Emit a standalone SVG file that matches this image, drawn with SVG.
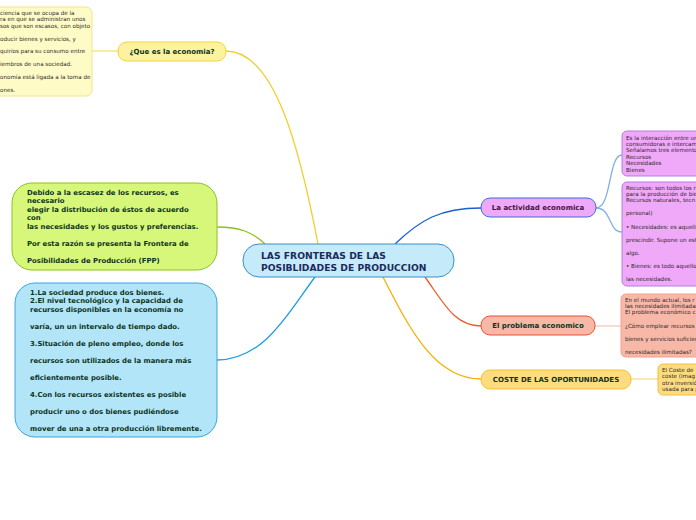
<svg xmlns="http://www.w3.org/2000/svg" width="696" height="520" viewBox="0 0 696 520">
<style>
.t{font-family:"DejaVu Sans",Verdana,sans-serif;font-weight:bold;fill:#0d3322}
.s{font-family:"DejaVu Sans",Verdana,sans-serif;font-size:5.6px;fill:#2a2a2a}
.c{fill:none;stroke-width:1.3}
</style>
<rect width="696" height="520" fill="#fff"/>
<g id="connectors">
<path class="c" d="M92,51 L118,51" stroke="#f5e070"/>
<path class="c" d="M226,51 C275,51 300,150 318,244" stroke="#f0d030"/>
<path class="c" d="M217,227 C240,227 252,232 265,244" stroke="#8dc21f"/>
<path class="c" d="M217,360 C265,360 290,310 315,277" stroke="#1a9fe0"/>
<path class="c" d="M395,244 C420,220 440,208 481,208" stroke="#1a5fd0"/>
<path class="c" d="M425,277 C445,305 455,326 481,326" stroke="#f05a28"/>
<path class="c" d="M383,277 C410,330 435,379 481,379" stroke="#f5b000"/>
<path class="c" d="M596,208 C612,208 608,155 622,155" stroke="#80b0e8"/>
<path class="c" d="M596,208 C612,208 608,232 622,232" stroke="#80b0e8"/>
<path class="c" d="M595,326 L621,326" stroke="#f8c8b8"/>
<path class="c" d="M631,379 L658,379" stroke="#fcd890"/>
</g>
<g id="note-economia">
<rect x="-10" y="7" width="102" height="89" rx="6" fill="#fffbc6" stroke="#f5e38a"/>
<text class="s" x="0" y="15">ciencia que se ocupa de la</text>
<text class="s" x="0" y="21">ra en que se administran unos</text>
<text class="s" x="0" y="28">sos que son escasos, con objeto</text>
<text class="s" x="0" y="41">oducir bienes y servicios, y</text>
<text class="s" x="0" y="53">quirios para su consumo entre</text>
<text class="s" x="0" y="66">iembros de una sociedad.</text>
<text class="s" x="0" y="79">onomía está ligada a la toma de</text>
<text class="s" x="0" y="92">ones.</text>
</g>
<g id="que-es">
<rect x="118" y="42" width="108" height="19" rx="9" fill="#fdf2a0" stroke="#f5d23c"/>
<text class="t" x="172" y="54" font-size="7" text-anchor="middle">¿Que es la economia?</text>
</g>
<g id="central">
<rect x="243" y="244" width="211" height="33" rx="16" fill="#c5ebfb" stroke="#3a8fc8"/>
<text class="t" x="261" y="259" font-size="9.2" style="fill:#1b2a5c">LAS FRONTERAS DE LAS</text>
<text class="t" x="261" y="271" font-size="9.2" style="fill:#1b2a5c">POSIBLIDADES DE PRODUCCION</text>
</g>
<g id="escasez">
<rect x="12" y="183" width="205" height="87" rx="20" fill="#d6f77a" stroke="#8dc21f"/>
<g class="t" font-size="6.9">
<text x="27" y="195">Debido a la escasez de los recursos, es</text>
<text x="27" y="203">necesario</text>
<text x="27" y="212">elegir la distribución de éstos de acuerdo</text>
<text x="27" y="220">con</text>
<text x="27" y="229">las necesidades y los gustos y preferencias.</text>
<text x="27" y="246">Por esta razón se presenta la Frontera de</text>
<text x="27" y="263">Posibilidades de Producción (FPP)</text>
</g>
</g>
<g id="supuestos">
<rect x="15" y="283" width="202" height="154" rx="20" fill="#b3e5f9" stroke="#3aa4e0"/>
<g class="t" font-size="6.9">
<text x="30" y="295">1.La sociedad produce dos bienes.</text>
<text x="30" y="303">2.El nivel tecnológico y la capacidad de</text>
<text x="30" y="312">recursos disponibles en la economía no</text>
<text x="30" y="329">varía, un un intervalo de tiempo dado.</text>
<text x="30" y="346">3.Situación de pleno empleo, donde los</text>
<text x="30" y="363">recursos son utilizados de la manera más</text>
<text x="30" y="380">eficientemente posible.</text>
<text x="30" y="397">4.Con los recursos existentes es posible</text>
<text x="30" y="414">producir uno o dos bienes pudiéndose</text>
<text x="30" y="431">mover de una a otra producción libremente.</text>
</g>
</g>
<g id="actividad">
<rect x="481" y="198" width="115" height="19" rx="9" fill="#f0a8f8" stroke="#3a6fd8"/>
<text class="t" x="538" y="210" font-size="7" text-anchor="middle" style="fill:#3a1a40">La actividad economica</text>
</g>
<g id="actividad-def">
<rect x="622" y="131" width="90" height="45" rx="5" fill="#f0a8f8" stroke="#b080e0"/>
<text class="s" x="626" y="140">Es la interacción entre un</text>
<text class="s" x="626" y="146">consumidoras e intercam</text>
<text class="s" x="626" y="152">Señalamos tres elemento</text>
<text class="s" x="626" y="159">Recursos</text>
<text class="s" x="626" y="165">Necesidades</text>
<text class="s" x="626" y="172">Bienes</text>
</g>
<g id="actividad-elementos">
<rect x="622" y="182" width="90" height="104" rx="5" fill="#f0a8f8" stroke="#b080e0"/>
<text class="s" x="626" y="190">Recursos: son todos los r</text>
<text class="s" x="626" y="196">para la producción de bie</text>
<text class="s" x="626" y="202">Recursos naturales, tecn</text>
<text class="s" x="626" y="215">personal)</text>
<text class="s" x="626" y="229">• Necesidades: es aquello</text>
<text class="s" x="626" y="242">prescindir. Supone un est</text>
<text class="s" x="626" y="255">algo.</text>
<text class="s" x="626" y="268">• Bienes: es todo aquello</text>
<text class="s" x="626" y="281">las necesidades.</text>
</g>
<g id="problema">
<rect x="481" y="316" width="114" height="19" rx="9" fill="#f8b8a8" stroke="#e85030"/>
<text class="t" x="538" y="328" font-size="7" text-anchor="middle">El problema economico</text>
</g>
<g id="problema-def">
<rect x="621" y="294" width="90" height="63" rx="5" fill="#f8b8a8" stroke="#f0a090"/>
<text class="s" x="625" y="302">En el mundo actual, los r</text>
<text class="s" x="625" y="308">las necesidades ilimitadas</text>
<text class="s" x="625" y="314">El problema económico c</text>
<text class="s" x="625" y="328">¿Cómo emplear recursos</text>
<text class="s" x="625" y="341">bienes y servicios suficien</text>
<text class="s" x="625" y="354">necesidades ilimitadas?</text>
</g>
<g id="coste">
<rect x="481" y="370" width="150" height="19" rx="9" fill="#fddc80" stroke="#f5c030"/>
<text class="t" x="556" y="382" font-size="7" text-anchor="middle">COSTE DE LAS OPORTUNIDADES</text>
</g>
<g id="coste-def">
<rect x="658" y="364" width="50" height="31" rx="5" fill="#fddc80" stroke="#f0c040"/>
<text class="s" x="662" y="372">El Coste de</text>
<text class="s" x="662" y="378">coste (imag</text>
<text class="s" x="662" y="385">otra inversió</text>
<text class="s" x="662" y="391">usada para p</text>
</g>
</svg>
